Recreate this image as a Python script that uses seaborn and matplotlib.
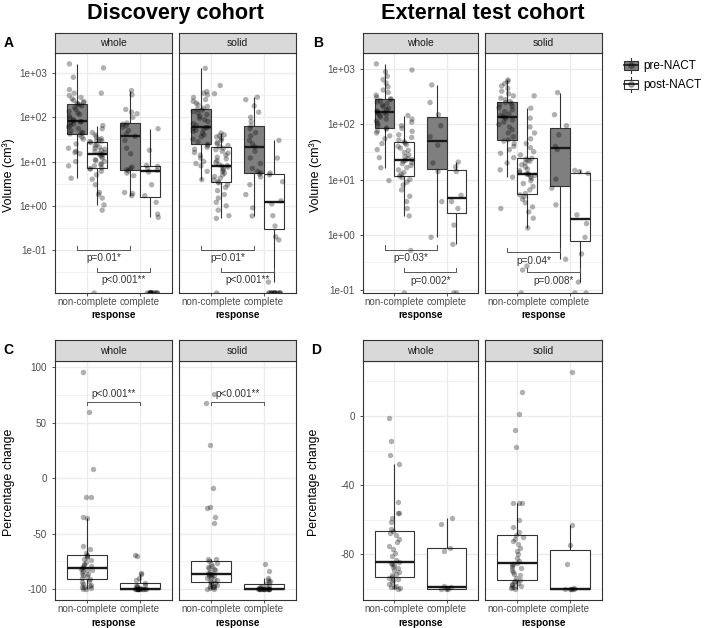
import numpy as np
import pandas as pd
import matplotlib
matplotlib.use("Agg")
import matplotlib.pyplot as plt
import seaborn as sns
from matplotlib.ticker import FixedLocator, FixedFormatter, NullFormatter
from matplotlib.patches import Rectangle, Patch
from matplotlib.lines import Line2D
from matplotlib.legend_handler import HandlerBase

np.random.seed(11)
plt.rcParams["font.family"] = ["Liberation Sans", "DejaVu Sans"]

# ---------------- data ----------------
RESPONSES = ["non-complete", "complete"]
PHASES = ["pre-NACT", "post-NACT"]
REGIONS = ["whole", "solid"]
COHORTS = ["Discovery cohort", "External test cohort"]
LETTERS = ["A", "B", "C", "D"]

# Panel A: discovery cohort volume (cm3); 0 = no residual tumour
A_WHOLE_PRE_NC = [4.2, 8, 10, 15, 16, 17, 20, 25, 32, 36, 40, 42, 44, 46, 50, 55, 60, 65, 70, 75, 78, 80,
                  83, 88, 95, 105, 115, 125, 135, 150, 165, 180, 190, 200, 205, 215, 225, 240, 260, 280,
                  310, 350, 420, 800, 1600]
A_WHOLE_POST_NC = [0, 0.8, 1.05, 1.5, 1.8, 2.0, 3.0, 4.0, 5.0, 6.0, 6.8, 6.9, 7.2, 8, 8.5, 9, 10, 10.5, 11,
                   12, 13, 14, 14.5, 15.3, 16, 17, 18, 19, 20, 21, 23, 25, 27, 28, 29, 30, 31, 33, 36, 40,
                   45, 55, 65, 350, 1300]
A_WHOLE_PRE_C = [1.7, 1.9, 2.0, 4.8, 5.5, 6.2, 6.5, 7, 7.5, 15, 20, 30, 37, 42, 50, 60, 65, 70, 74, 100,
                 120, 130, 150, 320, 400]
A_WHOLE_POST_C = [0, 0, 0, 0, 0, 0, 0, 0, 0, 0, 0, 0, 0, 0.55, 0.65, 1.2, 1.7, 3.0, 5.8, 6.4, 7.0, 7.8,
                  8.2, 18, 55]
A_SOLID_PRE_NC = [3.9, 6, 8, 9, 10, 12, 14, 16, 19, 21, 23, 24.5, 28, 32, 36, 40, 44, 48, 51, 54, 56, 58,
                  59, 65, 72, 80, 88, 95, 105, 115, 125, 135, 145, 152, 160, 175, 190, 210, 230, 250,
                  280, 320, 350, 380, 1270]
A_SOLID_POST_NC = [0, 0.52, 0.6, 0.8, 1.0, 1.2, 1.5, 1.8, 2.2, 2.6, 3.0, 3.3, 3.5, 3.8, 4.2, 4.6, 5.0,
                   5.5, 6.0, 6.5, 7.0, 7.5, 7.9, 8.1, 8.5, 9.5, 10.5, 11.5, 12.5, 14, 15.5, 17, 18.5, 20,
                   21.4, 23, 25, 27, 30, 33, 36, 38, 40, 44, 340, 520]
A_SOLID_PRE_C = [0.59, 0.9, 1.8, 3.0, 4.5, 5.2, 5.6, 6.0, 7.0, 9, 12, 17, 21.4, 25, 30, 38, 45, 55, 64,
                 80, 100, 130, 180, 250, 284]
A_SOLID_POST_C = [0, 0, 0, 0, 0, 0, 0, 0, 0, 0, 0, 0, 0, 0.019, 0.17, 0.2, 0.35, 0.6, 1.1, 1.3, 3.5,
                  5.0, 5.5, 12, 30]

# Panel B: external test cohort volume (cm3)
B_WHOLE_PRE_NC = [9.6, 16.4, 25, 35, 45, 55, 62, 70, 76, 82, 86, 95, 105, 115, 125, 135, 145, 152, 158,
                  164, 169, 175, 185, 195, 210, 225, 240, 255, 270, 282, 291, 310, 340, 380, 420, 480,
                  560, 650, 750, 900, 1250]
B_WHOLE_POST_NC = [0, 0.52, 2.2, 3.0, 4.0, 5.0, 6.5, 8, 9, 10, 11, 11.6, 12.5, 13.5, 15, 16.5, 18, 19.5,
                   20.5, 21.5, 22.3, 22.9, 24, 26, 28, 31, 34, 37, 40, 43, 46, 48.5, 52, 58, 65, 75, 85,
                   95, 110, 125, 145, 970]
B_WHOLE_PRE_C = [0.9, 4, 14, 20, 42, 60, 95, 150, 250, 520]
B_WHOLE_POST_C = [0, 0, 0.67, 1.5, 3.0, 4.0, 5.2, 14, 17, 20.8]
B_SOLID_PRE_NC = [3.0, 11.1, 15, 20, 25, 30, 35, 40, 45, 50, 52.7, 60, 70, 80, 90, 100, 110, 120, 128,
                  135, 139, 145, 155, 170, 185, 200, 215, 230, 240, 250, 260, 280, 300, 330, 360, 400,
                  450, 500, 550, 600, 640]
B_SOLID_POST_NC = [0, 0.23, 0.27, 1.33, 2.0, 2.6, 3.2, 3.8, 4.4, 4.9, 5.3, 5.6, 6.5, 7.5, 8.5, 9.5,
                   10.5, 11.3, 12, 12.4, 12.6, 12.8, 13.5, 14.5, 15.5, 17, 18.5, 20, 21.5, 22.5, 23.5,
                   24.3, 28, 32, 38, 45, 55, 70, 90, 130, 197, 330]
B_SOLID_PRE_C = [0.36, 3.5, 7.0, 10.2, 35, 40, 65, 95, 150, 378]
B_SOLID_POST_C = [0, 0, 0.139, 0.45, 0.9, 1.6, 2.3, 13, 14, 14.7]

# Panel C: discovery cohort percentage change
C_WHOLE_NC = [-100, -99.5, -99, -98.5, -98, -97, -96, -95, -93.5, -92.5, -91.3, -90, -88.5, -87, -86,
              -85, -84, -83, -82.5, -81.8, -81.1, -80, -79, -78, -77, -75.5, -74, -72.5, -71, -70,
              -69.1, -67, -64, -61.5, -36, -35, -17, -17, 8, 60, 96]
C_WHOLE_C = [-100, -100, -100, -100, -100, -100, -100, -100, -100, -100, -100, -100, -100, -99, -98,
             -97.5, -97, -96, -94.2, -92, -90, -86, -85, -70, -69]
C_SOLID_NC = [-100, -99.5, -99, -98.5, -98, -97.5, -97, -96, -95.5, -94.8, -94.0, -93, -92, -91, -90,
              -89, -88.5, -87.5, -87, -86.7, -86.3, -85.5, -84.5, -83, -82, -81, -80, -79, -77.5, -76,
              -74.9, -73, -72.8, -40.3, -34.6, -27, -26, -8.4, 29.7, 68, 76]
C_SOLID_C = [-100, -100, -100, -100, -100, -100, -100, -100, -100, -100, -100, -100, -100, -99.5, -99,
             -98.5, -98, -97, -95.3, -94, -93, -92, -90, -84, -77]

# Panel D: external test cohort percentage change
D_WHOLE_NC = [-100, -99.5, -99, -98.5, -98, -97, -96, -95, -94, -93.4, -92.8, -92, -91, -90, -89, -88,
              -87, -86, -85.5, -85, -84.6, -83, -81, -79, -77, -75, -73, -71, -69, -67.5, -66.6, -65.4,
              -61, -59.1, -56, -55.9, -49.6, -28, -22.8, -14.7, -1.4]
D_WHOLE_C = [-100, -100, -100, -99.5, -99, -98.2, -78, -76, -62.6, -59.1]
D_SOLID_NC = [-100, -99.5, -99, -98.5, -98, -97.5, -97, -96.5, -96, -95.3, -94.7, -93.5, -92, -91, -90,
              -89, -88, -87, -86, -85.6, -85.2, -84, -82, -80, -78, -76, -74, -72.5, -71, -70, -68.9,
              -67, -64, -60, -50, -50, -50, -18.2, -8.1, 1.1, 13.6]
D_SOLID_C = [-100, -100, -100, -100, -100, -99.3, -85.5, -74.7, -63, 25.4]

C_TICKS = [-100, -50, 0, 50, 100]
D_TICKS = [-80, -40, 0]

# significance annotations: (phase, bracket level, label)
A_SIG = {"whole": [("pre-NACT", 0.1, "p=0.01*"), ("post-NACT", 0.032, "p<0.001**")],
         "solid": [("pre-NACT", 0.1, "p=0.01*"), ("post-NACT", 0.032, "p<0.001**")]}
B_SIG = {"whole": [("pre-NACT", 0.53, "p=0.03*"), ("post-NACT", 0.21, "p=0.002*")],
         "solid": [("pre-NACT", 0.48, "p=0.04*"), ("post-NACT", 0.21, "p=0.008*")]}
C_SIG = {"whole": (68.8, "p<0.001**"), "solid": (68.8, "p<0.001**")}
D_SIG = {"whole": None, "solid": None}


def volume_frame(groups):
    rows = []
    for (resp, phase), vals in groups.items():
        rows += [(resp, phase, v) for v in vals]
    return pd.DataFrame(rows, columns=["response", "phase", "volume"])


def pct_frame(nc, c):
    rows = [("non-complete", v) for v in nc] + [("complete", v) for v in c]
    return pd.DataFrame(rows, columns=["response", "change"])


A_DATA = {
    "whole": volume_frame({("non-complete", "pre-NACT"): A_WHOLE_PRE_NC,
                           ("non-complete", "post-NACT"): A_WHOLE_POST_NC,
                           ("complete", "pre-NACT"): A_WHOLE_PRE_C,
                           ("complete", "post-NACT"): A_WHOLE_POST_C}),
    "solid": volume_frame({("non-complete", "pre-NACT"): A_SOLID_PRE_NC,
                           ("non-complete", "post-NACT"): A_SOLID_POST_NC,
                           ("complete", "pre-NACT"): A_SOLID_PRE_C,
                           ("complete", "post-NACT"): A_SOLID_POST_C}),
}
B_DATA = {
    "whole": volume_frame({("non-complete", "pre-NACT"): B_WHOLE_PRE_NC,
                           ("non-complete", "post-NACT"): B_WHOLE_POST_NC,
                           ("complete", "pre-NACT"): B_WHOLE_PRE_C,
                           ("complete", "post-NACT"): B_WHOLE_POST_C}),
    "solid": volume_frame({("non-complete", "pre-NACT"): B_SOLID_PRE_NC,
                           ("non-complete", "post-NACT"): B_SOLID_POST_NC,
                           ("complete", "pre-NACT"): B_SOLID_PRE_C,
                           ("complete", "post-NACT"): B_SOLID_POST_C}),
}
C_DATA = {"whole": pct_frame(C_WHOLE_NC, C_WHOLE_C), "solid": pct_frame(C_SOLID_NC, C_SOLID_C)}
D_DATA = {"whole": pct_frame(D_WHOLE_NC, D_WHOLE_C), "solid": pct_frame(D_SOLID_NC, D_SOLID_C)}

# ---------------- style / layout ----------------
W, H = 704, 628
EDGE = "#333333"
MEDIAN = "#1a1a1a"
GRID = "#ebebeb"
TICK_TEXT = "#4d4d4d"
STRIP_FILL = "#d9d9d9"
BOX_FILL = {"pre-NACT": "#7f7f7f", "post-NACT": "white"}
POINT_COLOR = {"pre-NACT": "black", "post-NACT": "black"}
DODGE = {"pre-NACT": -0.1875, "post-NACT": 0.1875}
PT_SIZE, PT_ALPHA = 3.9, 0.31

TOP_STRIP, TOP_PLOT = (33, 53), (53, 293)
BOT_STRIP, BOT_PLOT = (340, 361), (361, 600)
LEFT_FACETS = [(55, 172), (179, 296)]
RIGHT_FACETS = [(363, 478), (485, 602)]

fig = plt.figure(figsize=(W / 100, H / 100), dpi=100)


def rect(x0, x1, y0, y1):
    return [x0 / W, 1 - y1 / H, (x1 - x0) / W, (y1 - y0) / H]


def fx(x):
    return x / W


def fy(y):
    return 1 - y / H


def add_strip(xs, ys, label):
    s = fig.add_axes(rect(xs[0], xs[1], ys[0], ys[1]))
    s.set_facecolor(STRIP_FILL)
    s.set_xticks([])
    s.set_yticks([])
    for sp in s.spines.values():
        sp.set_color(EDGE)
        sp.set_linewidth(0.8)
    s.text(0.5, 0.48, label, ha="center", va="center", fontsize=7.4, color="#1a1a1a",
           transform=s.transAxes)


def style_axes(ax, show_y):
    ax.set_xlim(-0.6, 1.6)
    ax.set_axisbelow(True)
    for sp in ax.spines.values():
        sp.set_color(EDGE)
        sp.set_linewidth(0.8)
    ax.tick_params(axis="x", which="major", labelsize=7.1, labelcolor=TICK_TEXT, color=EDGE,
                   length=2.3, width=0.6, pad=0.8)
    ax.tick_params(axis="y", which="major", labelsize=7.1, labelcolor=TICK_TEXT, color=EDGE,
                   length=2.2, width=0.6, pad=3.6)
    ax.tick_params(axis="y", which="minor", length=0)
    ax.grid(True, which="major", color=GRID, lw=0.9)
    ax.grid(True, which="minor", axis="y", color=GRID, lw=0.45)
    ax.set_xlabel("")
    ax.set_ylabel("")
    if not show_y:
        ax.tick_params(axis="y", which="both", left=False, labelleft=False)


def log_limits(frames):
    vals = np.concatenate([f.volume[f.volume > 0].to_numpy() for f in frames])
    lo, hi = np.log10(vals.min()), np.log10(vals.max())
    pad = 0.05 * (hi - lo)
    return lo - pad, hi + pad


def volume_facet(ax, df, lo, hi, sig, show_y):
    pos = df[df.volume > 0]
    sns.boxplot(data=pos, x="response", y="volume", hue="phase", order=RESPONSES, hue_order=PHASES,
                palette=BOX_FILL, saturation=1, width=0.75, gap=0, showfliers=False, showcaps=False,
                linecolor=EDGE, linewidth=0.8, medianprops=dict(color=MEDIAN, linewidth=1.7),
                log_scale=True, legend=False, ax=ax)
    pts = df.assign(volume=df.volume.where(df.volume > 0, 10 ** lo))
    sns.stripplot(data=pts, x="response", y="volume", hue="phase", order=RESPONSES, hue_order=PHASES,
                  palette=POINT_COLOR, dodge=True, jitter=0.3, size=PT_SIZE, alpha=PT_ALPHA,
                  linewidth=0, log_scale=True, legend=False, ax=ax, zorder=3)
    ax.set_yscale("log")
    ax.set_ylim(10 ** lo, 10 ** hi)
    majors = np.arange(np.ceil(lo), np.floor(hi) + 1).astype(int)
    minors = [m + 0.5 for m in range(majors[0] - 1, majors[-1] + 1) if lo < m + 0.5 < hi]
    ax.yaxis.set_major_locator(FixedLocator(10.0 ** majors))
    ax.yaxis.set_major_formatter(FixedFormatter([f"1e{k:+03d}" for k in majors]))
    ax.yaxis.set_minor_locator(FixedLocator(10.0 ** np.array(minors)))
    ax.yaxis.set_minor_formatter(NullFormatter())
    style_axes(ax, show_y)
    tip = 10 ** (0.019 * (hi - lo))
    for phase, yb, label in sig:
        x1, x2 = 0 + DODGE[phase], 1 + DODGE[phase]
        ax.plot([x1, x1, x2, x2], [yb * tip, yb, yb, yb * tip], color="#555555", lw=0.7, zorder=4)
        ax.annotate(label, xy=((x1 + x2) / 2, yb), xytext=(0, -6.0), textcoords="offset points",
                    ha="center", va="center", fontsize=7.2, color="#333333", zorder=5)


def pct_facet(ax, df, lo, hi, ticks, sig, show_y):
    sns.boxplot(data=df, x="response", y="change", order=RESPONSES, color="white", saturation=1,
                width=0.75, showfliers=False, showcaps=False, linecolor=EDGE, linewidth=0.8,
                medianprops=dict(color=MEDIAN, linewidth=1.7), ax=ax)
    sns.stripplot(data=df, x="response", y="change", order=RESPONSES, color="black", jitter=0.11,
                  size=PT_SIZE, alpha=PT_ALPHA, linewidth=0, ax=ax, zorder=3)
    ax.set_ylim(lo, hi)
    step = ticks[1] - ticks[0]
    minors = [t + step / 2 for t in [ticks[0] - step] + ticks if lo < t + step / 2 < hi]
    ax.yaxis.set_major_locator(FixedLocator(ticks))
    ax.yaxis.set_major_formatter(FixedFormatter([str(t) for t in ticks]))
    ax.yaxis.set_minor_locator(FixedLocator(minors))
    ax.yaxis.set_minor_formatter(NullFormatter())
    style_axes(ax, show_y)
    if sig is not None:
        yb, label = sig
        tip = 0.0125 * (hi - lo)
        ax.plot([0, 0, 1, 1], [yb - tip, yb, yb, yb - tip], color="#555555", lw=0.7, zorder=4)
        ax.annotate(label, xy=(0.5, yb), xytext=(0, 5.8), textcoords="offset points",
                    ha="center", va="center", fontsize=7.2, color="#333333", zorder=5)


# ---- volume panels (A, B) ----
for data, facets, sig in [(A_DATA, LEFT_FACETS, A_SIG), (B_DATA, RIGHT_FACETS, B_SIG)]:
    lo, hi = log_limits([data[r] for r in REGIONS])
    for i, (region, xs) in enumerate(zip(REGIONS, facets)):
        ax = fig.add_axes(rect(xs[0], xs[1], TOP_PLOT[0], TOP_PLOT[1]))
        volume_facet(ax, data[region], lo, hi, sig[region], show_y=(i == 0))
        add_strip(xs, TOP_STRIP, region)
        fig.text(fx((xs[0] + xs[1]) / 2), fy(315.5), "response", ha="center", va="center",
                 fontsize=7.2, fontweight="bold")

# ---- percentage panels (C, D) ----
for data, facets, ticks, sig in [(C_DATA, LEFT_FACETS, C_TICKS, C_SIG),
                                  (D_DATA, RIGHT_FACETS, D_TICKS, D_SIG)]:
    allv = np.concatenate([data[r].change.to_numpy() for r in REGIONS])
    pad = 0.05 * (allv.max() - allv.min())
    lo, hi = allv.min() - pad, allv.max() + pad
    for i, (region, xs) in enumerate(zip(REGIONS, facets)):
        ax = fig.add_axes(rect(xs[0], xs[1], BOT_PLOT[0], BOT_PLOT[1]))
        pct_facet(ax, data[region], lo, hi, ticks, sig[region], show_y=(i == 0))
        add_strip(xs, BOT_STRIP, region)
        fig.text(fx((xs[0] + xs[1]) / 2), fy(623), "response", ha="center", va="center",
                 fontsize=7.2, fontweight="bold")

# ---- axis titles, panel letters, cohort titles ----
for x, y, label in [(8.5, 175, "Volume (cm³)"), (316, 175, "Volume (cm³)"),
                    (8.7, 482, "Percentage change"), (314, 482, "Percentage change")]:
    fig.text(fx(x), fy(y), label, rotation=90, ha="center", va="center", fontsize=8.9)

for letter, (x, y) in zip(LETTERS, [(3.5, 47.3), (313, 47.3), (3.5, 353.5), (311.5, 353.5)]):
    fig.text(fx(x), fy(y), letter, ha="left", va="baseline", fontsize=10, fontweight="bold")

for title, x in zip(COHORTS, [175.5, 482.5]):
    fig.text(fx(x), fy(19), title, ha="center", va="baseline", fontsize=15.6, fontweight="bold")


# ---- legend with boxplot keys ----
class BoxKey(HandlerBase):
    def create_artists(self, legend, orig, xd, yd, w, h, fs, trans):
        x0, y0 = -xd, -yd
        fc = orig.get_facecolor()
        box = Rectangle((x0 + 0.08 * w, y0 + 0.2 * h), 0.84 * w, 0.6 * h, facecolor=fc,
                        edgecolor=EDGE, lw=0.8, transform=trans)
        wl = Line2D([x0 + w / 2] * 2, [y0 + 0.04 * h, y0 + 0.2 * h], color=EDGE, lw=0.8,
                    transform=trans)
        wu = Line2D([x0 + w / 2] * 2, [y0 + 0.8 * h, y0 + 0.96 * h], color=EDGE, lw=0.8,
                    transform=trans)
        med = Line2D([x0 + 0.08 * w, x0 + 0.92 * w], [y0 + 0.5 * h] * 2, color=MEDIAN, lw=1.2,
                     transform=trans)
        dot = Line2D([x0 + w / 2], [y0 + 0.5 * h], marker="o", ms=PT_SIZE, color="black",
                     alpha=PT_ALPHA, lw=0, transform=trans)
        return [box, wl, wu, med, dot]


handles = [Patch(facecolor=BOX_FILL[p], edgecolor=EDGE, label=p) for p in PHASES]
fig.legend(handles=handles, handler_map={Patch: BoxKey()}, loc="upper left",
           bbox_to_anchor=(fx(623), fy(57.5)), frameon=False, fontsize=8.5, handlelength=1.36,
           handleheight=1.7, labelspacing=0.26, handletextpad=0.39, borderpad=0, borderaxespad=0)

fig.savefig("out.png", dpi=100)
